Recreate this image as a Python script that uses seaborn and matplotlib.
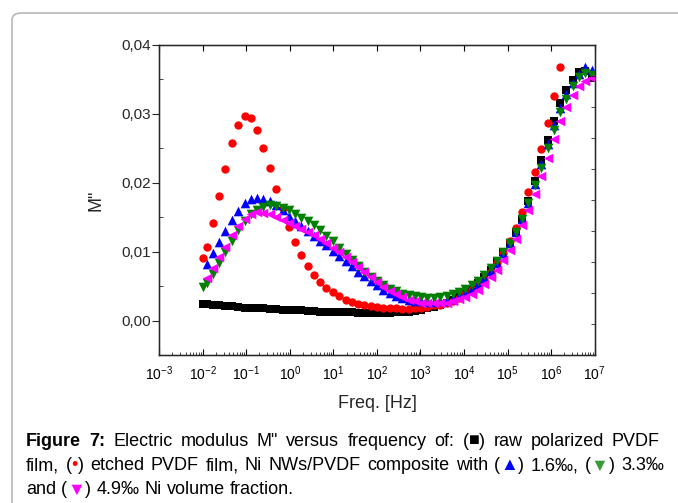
import numpy as np
import pandas as pd
import matplotlib
matplotlib.use('Agg')
import matplotlib.pyplot as plt
import matplotlib.ticker as mticker
from matplotlib.patches import FancyBboxPatch
import seaborn as sns

# log10 of the measuring frequencies (Hz)
log_freq = [-2.00, -1.91, -1.77, -1.62, -1.48, -1.33, -1.19, -1.04, -0.90, -0.75,
            -0.61, -0.46, -0.32, -0.17, -0.03, 0.12, 0.26, 0.41, 0.55, 0.70,
            0.84, 0.99, 1.13, 1.28, 1.42, 1.57, 1.71, 1.86, 2.00, 2.15,
            2.29, 2.44, 2.58, 2.73, 2.87, 3.02, 3.16, 3.31, 3.45, 3.60,
            3.74, 3.89, 4.03, 4.18, 4.32, 4.47, 4.61, 4.76, 4.90, 5.05,
            5.19, 5.34, 5.48, 5.63, 5.77, 5.92, 6.06, 6.21, 6.35, 6.50,
            6.64, 6.79, 6.93]

nan = np.nan
m_raw = [0.0024, 0.0024, 0.0023, 0.0022, 0.0021, 0.0021, 0.0020, 0.0019, 0.0019, 0.0018,
         0.0018, 0.0017, 0.0017, 0.0016, 0.0016, 0.0015, 0.0015, 0.0014, 0.0014, 0.0013,
         0.0013, 0.0013, 0.0012, 0.0012, 0.0012, 0.0011, 0.0011, 0.0011, 0.0011, 0.0011,
         0.0011, 0.0012, 0.0012, 0.0013, 0.0014, 0.0016, 0.0018, 0.0020, 0.0023, 0.0026,
         0.0030, 0.0035, 0.0040, 0.0046, 0.0054, 0.0063, 0.0074, 0.0086, 0.0099, 0.0113,
         0.0129, 0.0148, 0.0174, 0.0203, 0.0233, 0.0262, 0.0290, 0.0316, 0.0335, 0.0349,
         0.0361, 0.0362, 0.0352]
m_etched = [0.0091, 0.0107, 0.0141, 0.0180, 0.0220, 0.0257, 0.0284, 0.0297, 0.0294, 0.0277,
            0.0251, 0.0222, 0.0191, 0.0163, 0.0136, 0.0114, 0.0095, 0.0079, 0.0066, 0.0056,
            0.0047, 0.0041, 0.0035, 0.0030, 0.0027, 0.0024, 0.0022, 0.0021, 0.0020, 0.0019,
            0.0018, 0.0018, 0.0017, 0.0017, 0.0018, 0.0019, 0.0020, 0.0022, 0.0023, 0.0025,
            0.0028, 0.0033, 0.0039, 0.0045, 0.0052, 0.0060, 0.0070, 0.0083, 0.0098, 0.0115,
            0.0134, 0.0158, 0.0186, 0.0216, 0.0249, 0.0286, 0.0325, 0.0368, nan, nan,
            nan, nan, nan]
m_16 = [nan, 0.0082, 0.0098, 0.0114, 0.0130, 0.0146, 0.0159, 0.0170, 0.0176, 0.0178,
        0.0177, 0.0173, 0.0167, 0.0160, 0.0152, 0.0144, 0.0137, 0.0130, 0.0123, 0.0116,
        0.0109, 0.0101, 0.0094, 0.0086, 0.0079, 0.0071, 0.0064, 0.0057, 0.0051, 0.0045,
        0.0040, 0.0036, 0.0033, 0.0030, 0.0029, 0.0028, 0.0027, 0.0027, 0.0028, 0.0029,
        0.0032, 0.0036, 0.0040, 0.0046, 0.0053, 0.0062, 0.0072, 0.0084, 0.0098, 0.0112,
        0.0129, 0.0148, 0.0171, 0.0198, 0.0227, 0.0256, 0.0283, 0.0308, 0.0329, 0.0345,
        0.0358, 0.0368, 0.0363]
m_33 = [0.0049, 0.0055, 0.0067, 0.0083, 0.0099, 0.0115, 0.0131, 0.0144, 0.0155, 0.0161,
        0.0165, 0.0167, 0.0166, 0.0164, 0.0160, 0.0155, 0.0149, 0.0144, 0.0138, 0.0131,
        0.0123, 0.0115, 0.0106, 0.0096, 0.0088, 0.0079, 0.0070, 0.0063, 0.0057, 0.0051,
        0.0046, 0.0043, 0.0039, 0.0037, 0.0035, 0.0034, 0.0033, 0.0033, 0.0034, 0.0036,
        0.0038, 0.0042, 0.0046, 0.0052, 0.0058, 0.0066, 0.0076, 0.0087, 0.0100, 0.0113,
        0.0129, 0.0147, 0.0170, 0.0196, 0.0222, 0.0250, 0.0276, 0.0302, 0.0322, 0.0340,
        0.0353, 0.0359, 0.0356]
m_49 = [nan, 0.0062, 0.0076, 0.0092, 0.0107, 0.0124, 0.0137, 0.0148, 0.0155, 0.0157,
        0.0156, 0.0154, 0.0150, 0.0146, 0.0141, 0.0137, 0.0133, 0.0129, 0.0124, 0.0119,
        0.0113, 0.0106, 0.0099, 0.0092, 0.0085, 0.0078, 0.0070, 0.0063, 0.0056, 0.0049,
        0.0043, 0.0038, 0.0034, 0.0030, 0.0028, 0.0026, 0.0025, 0.0025, 0.0025, 0.0026,
        0.0028, 0.0031, 0.0034, 0.0038, 0.0045, 0.0053, 0.0063, 0.0074, 0.0088, 0.0103,
        0.0119, 0.0139, 0.0160, 0.0184, 0.0210, 0.0236, 0.0263, 0.0289, 0.0310, 0.0327,
        0.0340, 0.0348, 0.0352]

series = [
    ('raw', m_raw, 's', 'black', 34),
    ('etched', m_etched, 'o', '#ff0000', 36),
    ('1.6', m_16, '^', '#0000ff', 48),
    ('3.3', m_33, 'v', '#008000', 48),
    ('4.9', m_49, '<', '#ff00ff', 48),
]

freq = 10.0 ** np.array(log_freq)

sns.set_style('ticks')
plt.rcParams['font.family'] = ['Liberation Sans', 'DejaVu Sans']
plt.rcParams['mathtext.default'] = 'regular'

fig = plt.figure(figsize=(6.78, 5.03), dpi=100)
ax = fig.add_axes([0.235, 0.294, 0.642, 0.617])

for name, vals, mk, col, size in series:
    d = pd.DataFrame({'f': freq, 'M': vals}).dropna()
    sns.scatterplot(data=d, x='f', y='M', marker=mk, color=col, s=size,
                    linewidth=0, ax=ax, zorder=3)

ax.set_xscale('log')
ax.set_xlim(1e-3, 1e7)
ax.set_ylim(-0.005, 0.04)
ax.xaxis.set_major_locator(mticker.LogLocator(base=10, numticks=20))
ax.xaxis.set_minor_locator(mticker.LogLocator(base=10, subs=np.arange(2, 10), numticks=20))
ax.xaxis.set_minor_formatter(mticker.NullFormatter())
ax.set_yticks([0.0, 0.01, 0.02, 0.03, 0.04])
ax.yaxis.set_minor_locator(mticker.MultipleLocator(0.005))
ax.yaxis.set_major_formatter(mticker.FuncFormatter(lambda v, p: f'{v:.2f}'.replace('.', ',')))

ax.tick_params(axis='x', which='major', direction='in', length=4, width=0.8,
               top=True, labelsize=10, pad=7, colors='black')
ax.tick_params(axis='x', which='minor', direction='in', length=2, width=0.6, top=False)
ax.tick_params(axis='y', which='major', direction='out', length=5, width=0.8,
               labelsize=11, pad=1, right=False)
ax.tick_params(axis='y', which='minor', direction='in', length=3, width=0.6, right=False)
for sp in ax.spines.values():
    sp.set_linewidth(1.0)
    sp.set_color('black')

ax2 = ax.twinx()
ax2.set_ylim(0, 1)
ax2.set_yticks([i / 10 for i in range(11)])
ax2.tick_params(axis='y', direction='in', length=3, width=0.6, labelright=False)

ax.set_xlabel('Freq. [Hz]', fontsize=13, labelpad=8)
ax.set_ylabel('M"', fontsize=13, labelpad=12)

# rounded frame around figure + caption
frame = FancyBboxPatch((12 / 678, -0.1), 1.1, 1.0 - 13 / 503 + 0.1,
                       boxstyle='round,pad=0,rounding_size=0.014',
                       transform=fig.transFigure, facecolor='none',
                       edgecolor='#b8b8b8', linewidth=1.2)
fig.patches.append(frame)

renderer = fig.canvas.get_renderer()
cap_size = 13
W, H = fig.bbox.width, fig.bbox.height
space_px = cap_size * 0.278 * 100 / 72


def caption_line(pieces, x_px, y_px, right_px=None):
    # split into words so that the line can be justified like the journal caption
    segs = []
    gap = 0
    for text, col, weight in pieces:
        for i, word in enumerate(text.split(' ')):
            if i > 0:
                gap += 1
            if word:
                segs.append([word, col, weight, gap])
                gap = 0
    texts = []
    natural = 0
    n_gaps = 0
    for word, col, weight, g in segs:
        t = fig.text(0, 1 - y_px / H, word, color=col, fontweight=weight,
                     fontsize=cap_size, va='center', ha='left')
        w = t.get_window_extent(renderer=renderer).width
        texts.append((t, w, g))
        natural += w + g * space_px
        n_gaps += g
    extra = 0
    if right_px is not None and n_gaps:
        extra = (right_px - x_px - natural) / n_gaps
    x = x_px
    for t, w, g in texts:
        x += g * (space_px + extra)
        t.set_x(x / W)
        x += w


k = 'black'
caption_line([('Figure 7:', k, 'bold'),
              (' Electric modulus M" versus frequency of: (', k, 'normal'),
              ('\u25a0', k, 'normal'),
              (') raw polarized PVDF', k, 'normal')], 26, 441, right_px=660)
caption_line([('film, (', k, 'normal'), ('\u2022', '#ff0000', 'normal'),
              (') etched PVDF film, Ni NWs/PVDF composite with (', k, 'normal'),
              ('\u25b2', '#0000ff', 'normal'), (') 1.6\u2030, (', k, 'normal'),
              ('\u25bc', '#3a9a3a', 'normal'), (') 3.3\u2030', k, 'normal')], 26, 466,
             right_px=664)
caption_line([('and (', k, 'normal'), ('\u25bc', '#ff00ff', 'normal'),
              (') 4.9\u2030 Ni volume fraction.', k, 'normal')], 26, 490)

fig.savefig('out.png', dpi=100)
